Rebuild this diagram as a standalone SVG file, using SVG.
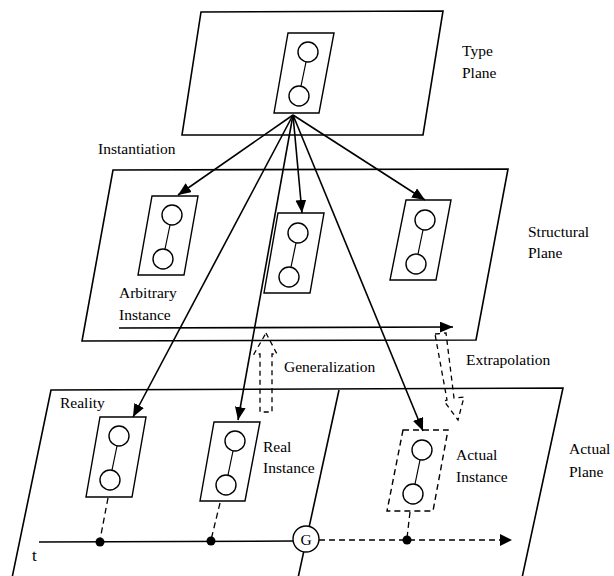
<svg xmlns="http://www.w3.org/2000/svg" width="614" height="576" viewBox="0 0 614 576">
<style>
.plane{fill:none;stroke:#000;stroke-width:1.6;stroke-linejoin:miter}
.box{fill:none;stroke:#000;stroke-width:1.4}
.dbox{fill:none;stroke:#000;stroke-width:1.4;stroke-dasharray:6,4}
.node{fill:#fff;stroke:#000;stroke-width:1.4}
.link{stroke:#000;stroke-width:1.2}
.arr{fill:none;stroke:#000;stroke-width:1.6;marker-end:url(#ah)}
.dash{fill:none;stroke:#000;stroke-width:1.3;stroke-dasharray:6,4}
.hollow{fill:none;stroke:#000;stroke-width:1.3;stroke-dasharray:5,4}
text{font-family:'Liberation Serif','DejaVu Serif',serif;font-size:15.5px;fill:#000}
.dot{fill:#000}
</style>
<defs>
<marker id="ah" viewBox="0 0 12 10" refX="12" refY="5" markerWidth="13" markerHeight="11" markerUnits="userSpaceOnUse" orient="auto">
<path d="M0,0 L12,5 L0,10 z" fill="#000"/>
</marker>
<g id="mol">
<circle cx="0" cy="0" r="10" class="node"/>
<circle cx="-9" cy="44" r="10" class="node"/>
<line x1="-2" y1="10" x2="-7" y2="34" class="link"/>
</g>
</defs>

<g id="type-plane">
<polygon class="plane" points="201,12 443,11 423,135 182,135"/>
<text font-family="Liberation Serif, serif" x="462" y="56">Type</text>
<text font-family="Liberation Serif, serif" x="462" y="78">Plane</text>
</g>
<g id="type-node">
<polygon class="box" points="288,33 334,33 319,113 274,113"/>
<use href="#mol" x="308" y="52"/>
</g>

<g id="structural-plane">
<polygon class="plane" points="113,170 508,169 476,340 82,341"/>
<text font-family="Liberation Serif, serif" x="528" y="237">Structural</text>
<text font-family="Liberation Serif, serif" x="528" y="258">Plane</text>
<text font-family="Liberation Serif, serif" x="119" y="298">Arbitrary</text>
<text font-family="Liberation Serif, serif" x="119" y="320">Instance</text>
</g>
<g id="struct-node-1">
<polygon class="box" points="152,196 198,196 184,275 138,275"/>
<use href="#mol" x="172" y="215"/>
</g>
<g id="struct-node-2">
<polygon class="box" points="278,213 324,213 310,293 264,293"/>
<use href="#mol" x="298" y="233"/>
</g>
<g id="struct-node-3">
<polygon class="box" points="406,200 451,200 436,280 390,280"/>
<use href="#mol" x="425" y="220"/>
</g>

<g id="actual-plane">
<polyline class="plane" points="12,578 51,390 563,388 522,578"/>
<line class="plane" x1="339" y1="390" x2="298" y2="578"/>
<text font-family="Liberation Serif, serif" x="60" y="408">Reality</text>
<text font-family="Liberation Serif, serif" x="569" y="454">Actual</text>
<text font-family="Liberation Serif, serif" x="569" y="477">Plane</text>
</g>
<g id="reality-node">
<polygon class="box" points="100,417 146,417 132,497 86,497"/>
<use href="#mol" x="119" y="436"/>
</g>
<g id="real-node">
<polygon class="box" points="214,422 260,422 245,501 200,501"/>
<use href="#mol" x="235" y="441"/>
<text font-family="Liberation Serif, serif" x="263" y="452">Real</text>
<text font-family="Liberation Serif, serif" x="263" y="473">Instance</text>
</g>
<g id="actual-node">
<polygon class="dbox" points="403,430 448,430 433,511 387,511"/>
<use href="#mol" x="422" y="450"/>
<text font-family="Liberation Serif, serif" x="456" y="460">Actual</text>
<text font-family="Liberation Serif, serif" x="456" y="482">Instance</text>
</g>
<g id="g-node">
<circle cx="306" cy="539" r="13" fill="#fff" stroke="#000" stroke-width="1.4"/>
<text font-family="Liberation Serif, serif" x="306" y="544.5" text-anchor="middle">G</text>
</g>
<g id="time-label">
<text font-family="Liberation Serif, serif" x="32" y="561" style="font-size:17px">t</text>
</g>

<g id="connectors">
<line class="arr" x1="293" y1="115" x2="178" y2="195"/>
<line class="arr" x1="293" y1="115" x2="302" y2="213"/>
<line class="arr" x1="293" y1="115" x2="425" y2="200"/>
<line class="arr" x1="293" y1="115" x2="133" y2="417"/>
<line class="arr" x1="293" y1="115" x2="238" y2="420"/>
<line class="arr" x1="293" y1="115" x2="423" y2="431"/>
<line class="arr" x1="119" y1="328" x2="453" y2="327"/>
<line x1="39" y1="542" x2="293" y2="541" stroke="#000" stroke-width="1.5"/>
<line class="dash" x1="319" y1="540" x2="500" y2="540"/>
<path d="M500,534 L512,540 L500,546 z" fill="#000"/>
<line class="dash" x1="108" y1="498" x2="100" y2="540"/>
<line class="dash" x1="220" y1="503" x2="211" y2="540"/>
<line class="dash" x1="410" y1="512" x2="407" y2="538"/>
<circle class="dot" cx="100" cy="542" r="4.5"/>
<circle class="dot" cx="211" cy="541" r="4.5"/>
<circle class="dot" cx="407" cy="540" r="4.5"/>
<text font-family="Liberation Serif, serif" x="98" y="154">Instantiation</text>
<polygon class="hollow" points="266,333 277,354 272,354 272,412 260,412 260,354 254,354"/>
<text font-family="Liberation Serif, serif" x="284" y="372">Generalization</text>
<polygon class="hollow" points="435,334 446,333 454,398 464,397 458,420 444,401 447,400"/>
<text font-family="Liberation Serif, serif" x="466" y="365">Extrapolation</text>
</g>
</svg>
